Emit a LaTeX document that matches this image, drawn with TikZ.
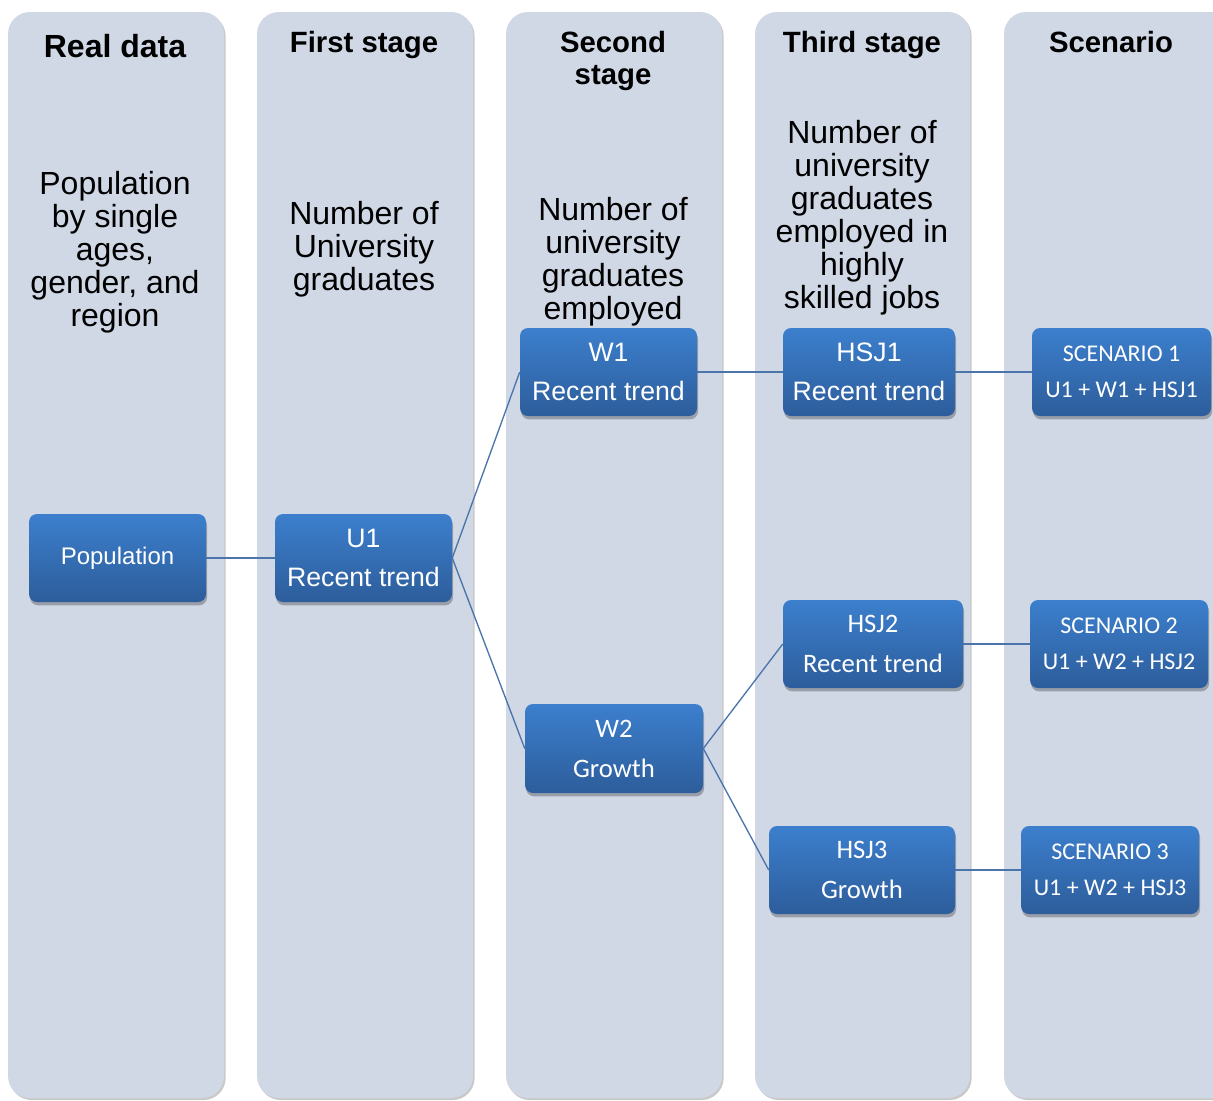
\documentclass[tikz,border=0pt]{standalone}
\usepackage{fontspec}
\setmainfont{Liberation Sans}
\newfontfamily\calfont{Carlito}
\usetikzlibrary{shadows}
\definecolor{colfill}{HTML}{D0D8E6}
\definecolor{boxtop}{HTML}{3C7FCD}
\definecolor{boxbot}{HTML}{2D5D9B}
\definecolor{linkc}{HTML}{4A74AA}
\begin{document}
\begin{tikzpicture}[x=0.75pt,y=-0.75pt,
  column/.style={fill=colfill, rounded corners=16.5pt,
    drop shadow={shadow xshift=1.2pt, shadow yshift=-1.5pt, opacity=0.3, fill=black!70}},
  box/.style={rounded corners=6pt, top color=boxtop, bottom color=boxbot, draw=none,
    text=white, align=center, inner sep=0pt, minimum height=66pt,
    drop shadow={shadow xshift=0.8pt, shadow yshift=-2.5pt, opacity=0.35, fill=black!80}},
  arialtxt/.style={font=\fontsize{20}{29.25}\selectfont},
  caltxt/.style={font=\calfont\fontsize{20}{30}\selectfont},
  scentxt/.style={font=\calfont\fontsize{18}{27}\selectfont},
  header/.style={font=\bfseries\fontsize{22}{24}\selectfont, align=center, inner sep=0pt},
  bodytxt/.style={font=\fontsize{24}{24.75}\selectfont, align=center, inner sep=0pt},
  link/.style={draw=linkc, line width=1pt}
]
\useasboundingbox (0,0) rectangle (1213,1100);
\clip (0,0) rectangle (1213,1100);

% columns
\path[column] (8,12) rectangle (224,1098);
\path[column] (257,12) rectangle (473,1098);
\path[column] (506,12) rectangle (722,1098);
\path[column] (755,12) rectangle (970,1098);
\path[column] (1004,12) rectangle (1240,1098);

% headers
\node[header, font=\bfseries\fontsize{24}{24}\selectfont] (h1) at (115,46) {Real data};
\node[header] (h2) at (364,45) {First stage};
\node[header] (h3) at (613,61) {Second\\stage};
\node[header] (h4) at (862,45) {Third stage};
\node[header] (h5) at (1111,42) {Scenario};

% descriptions
\node[bodytxt] (d1) at (115,252.5) {Population\\by single\\ages,\\gender, and\\region};
\node[bodytxt] (d2) at (364,249) {Number of\\University\\graduates};
\node[bodytxt] (d3) at (613,261.5) {Number of\\university\\graduates\\employed};
\node[bodytxt] (d4) at (862,218) {Number of\\university\\graduates\\employed in\\highly\\skilled jobs};

% boxes
\node[box, minimum width=132.75pt, font=\fontsize{18}{24}\selectfont] (pop) at (117.5,558) {Population};
\node[box, minimum width=132.75pt, arialtxt] (u1) at (363.5,558) {U1\\Recent trend};
\node[box, minimum width=132.75pt, arialtxt] (w1) at (608.5,372) {W1\\Recent trend};
\node[box, minimum width=133.5pt, minimum height=66.75pt, caltxt] (w2) at (614,748.5) {W2\\Growth};
\node[box, minimum width=129pt, arialtxt] (hsj1) at (869,372) {HSJ1\\Recent trend};
\node[box, minimum width=135pt, caltxt] (hsj2) at (873,644) {HSJ2\\Recent trend};
\node[box, minimum width=139.5pt, caltxt] (hsj3) at (862,870) {HSJ3\\Growth};
\node[box, minimum width=134.25pt, scentxt] (sc1) at (1121.5,372) {SCENARIO 1\\U1 + W1 + HSJ1};
\node[box, minimum width=133.5pt, scentxt] (sc2) at (1119,644) {SCENARIO 2\\U1 + W2 + HSJ2};
\node[box, minimum width=133.5pt, scentxt] (sc3) at (1110,870) {SCENARIO 3\\U1 + W2 + HSJ3};

% connectors
\draw[link] (pop.east) -- (u1.west);
\draw[link] (u1.east) -- (w1.west);
\draw[link] (u1.east) -- (w2.west);
\draw[link] (w1.east) -- (hsj1.west);
\draw[link] (hsj1.east) -- (sc1.west);
\draw[link] (w2.east) -- (hsj2.west);
\draw[link] (w2.east) -- (hsj3.west);
\draw[link] (hsj2.east) -- (sc2.west);
\draw[link] (hsj3.east) -- (sc3.west);
\end{tikzpicture}
\end{document}
